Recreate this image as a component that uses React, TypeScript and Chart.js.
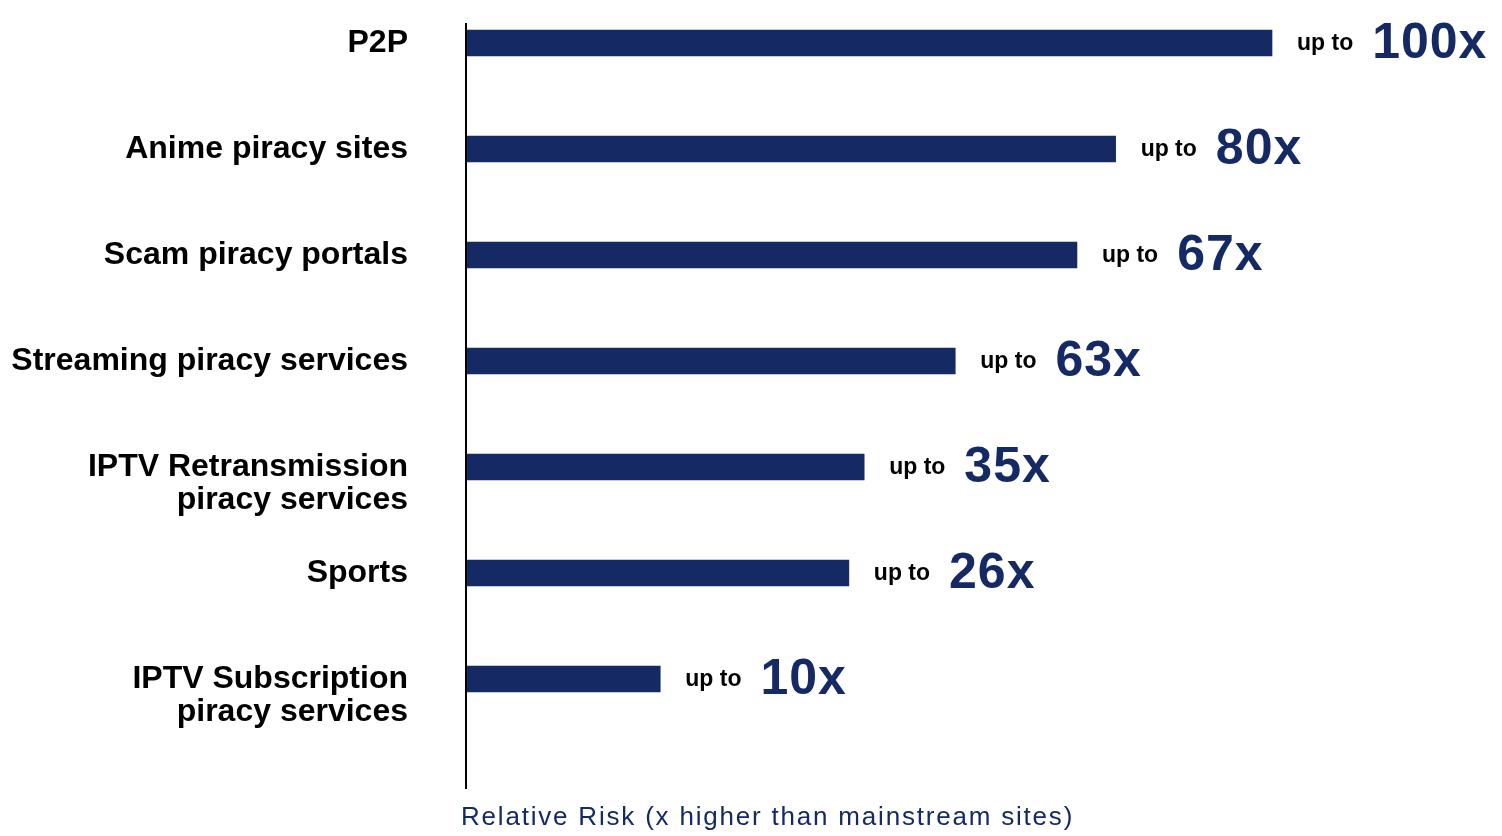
import React, { useEffect, useRef } from "react";
import { Chart, registerables } from "chart.js";

Chart.register(...registerables);

const categoryLines: string[][] = [
  ["P2P"],
  ["Anime piracy sites"],
  ["Scam piracy portals"],
  ["Streaming piracy services"],
  ["IPTV Retransmission", "piracy services"],
  ["Sports"],
  ["IPTV Subscription", "piracy services"],
];
// bar lengths as drawn (relative to the P2P bar = 100)
const barLengths = [100, 80.6, 75.8, 60.7, 49.4, 47.5, 24.1];
// multiplier printed next to each bar
const riskMultipliers = [100, 80, 67, 63, 35, 26, 10];
const axisTitle = "Relative Risk (x higher than mainstream sites)";
const prefixText = "up to";

const NAVY = "#152a64";
const FONT = "'Liberation Sans', Arial, Helvetica, sans-serif";

export default function App() {
  const ref = useRef<HTMLCanvasElement | null>(null);

  useEffect(() => {
    if (!ref.current) return;
    const labels = categoryLines.map((l) => (l.length > 1 ? ["", ...l] : l[0]));

    const overlay = {
      id: "overlay",
      afterDatasetsDraw(chart: any) {
        const ctx = chart.ctx;
        const area = chart.chartArea;
        ctx.save();
        // vertical axis line
        ctx.strokeStyle = "#000";
        ctx.lineWidth = 2;
        ctx.beginPath();
        ctx.moveTo(area.left, 23);
        ctx.lineTo(area.left, 789);
        ctx.stroke();
        // value labels
        const meta = chart.getDatasetMeta(0);
        meta.data.forEach((bar: any, i: number) => {
          const x0 = bar.x + 25;
          ctx.font = `bold 23px ${FONT}`;
          ctx.fillStyle = "#000";
          ctx.textAlign = "left";
          ctx.textBaseline = "alphabetic";
          (ctx as any).letterSpacing = "0px";
          ctx.fillText(prefixText, x0, bar.y + 7);
          const w = ctx.measureText(prefixText).width;
          ctx.font = `bold 50px ${FONT}`;
          ctx.fillStyle = NAVY;
          (ctx as any).letterSpacing = "1px";
          ctx.fillText(`${riskMultipliers[i]}x`, x0 + w + 19, bar.y + 15);
        });
        // axis title
        ctx.font = `26px ${FONT}`;
        ctx.fillStyle = NAVY;
        (ctx as any).letterSpacing = "1.8px";
        ctx.fillText(axisTitle, area.left - 5, 825);
        (ctx as any).letterSpacing = "0px";
        ctx.restore();
      },
    };

    const chart = new Chart(ref.current, {
      type: "bar",
      data: {
        labels,
        datasets: [
          {
            data: barLengths,
            backgroundColor: NAVY,
            borderWidth: 0,
            barThickness: 26,
            clip: false as any,
          },
        ],
      },
      options: {
        indexAxis: "y",
        animation: false,
        responsive: true,
        maintainAspectRatio: false,
        layout: { padding: { top: 43, bottom: 157, left: 0, right: 230 } },
        plugins: { legend: { display: false }, tooltip: { enabled: false } },
        scales: {
          x: { display: false, min: 0, max: 100 },
          y: {
            offset: false,
            grid: { display: false, drawTicks: false },
            border: { display: false },
            ticks: {
              padding: 58,
              color: "#000",
              font: { family: FONT, size: 32, weight: "bold", lineHeight: 1.03 },
            },
            afterFit(scale: any) {
              scale.width = 466;
              scale.paddingTop = 0;
              scale.paddingBottom = 0;
            },
          },
        },
      },
      plugins: [overlay],
    });
    return () => chart.destroy();
  }, []);

  return (
    <div style={{ position: "fixed", left: 0, top: 0, width: 1502, height: 836, background: "#fff" }}>
      <canvas ref={ref} />
    </div>
  );
}
